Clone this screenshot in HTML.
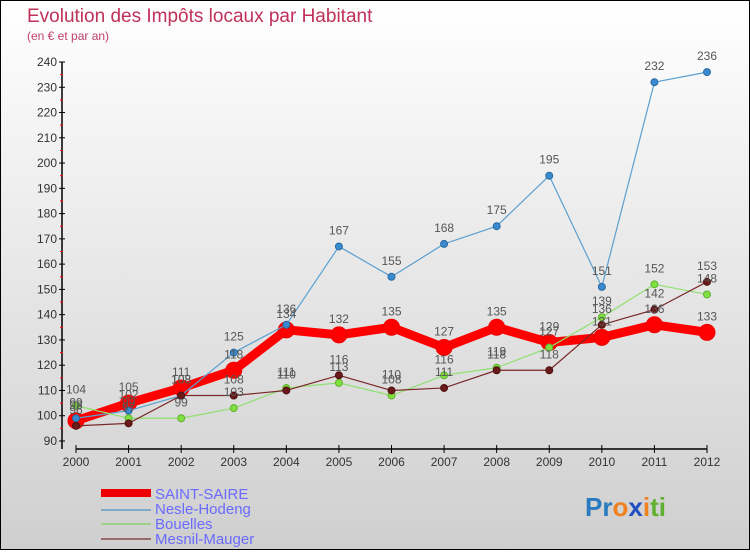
<!DOCTYPE html>
<html><head><meta charset="utf-8"><style>
html,body{margin:0;padding:0}
body{width:750px;height:550px;overflow:hidden;font-family:"Liberation Sans",sans-serif}
#wrap{position:relative;width:748px;height:548px;border:1px solid #000;background:linear-gradient(#ffffff,#cfcfcf)}
</style></head><body>
<div id="wrap">
<svg id="chart" width="748" height="548" xmlns="http://www.w3.org/2000/svg">
<text x="26" y="21" font-size="19" fill="#c0305a">Evolution des Impôts locaux par Habitant</text>
<text x="26" y="39" font-size="12" fill="#c0406a">(en € et par an)</text>
<g id="axes"></g><g id="series"></g><g id="labels"></g>
<g>
<rect x="100" y="488" width="50" height="8" fill="#e00"/>
<text x="154" y="498" font-size="15" fill="#6a6aff">SAINT-SAIRE</text>
<rect x="100" y="508" width="50" height="2" fill="#7fa9c9"/>
<text x="154" y="513" font-size="15" fill="#6a6aff">Nesle-Hodeng</text>
<rect x="100" y="522" width="50" height="2" fill="#9ed08a"/>
<text x="154" y="528" font-size="15" fill="#6a6aff">Bouelles</text>
<rect x="100" y="537" width="50" height="2" fill="#9a6a6a"/>
<text x="154" y="543" font-size="15" fill="#6a6aff">Mesnil-Mauger</text>
</g>
<g font-size="26" font-weight="bold">
<text x="584" y="515"><tspan fill="#2a7ac0">Pr</tspan><tspan fill="#f08020">o</tspan><tspan fill="#2050c0">x</tspan><tspan fill="#f08020">i</tspan><tspan fill="#60b030">ti</tspan></text>
</g>
</svg>
</div>
<script>
const years=[2000,2001,2002,2003,2004,2005,2006,2007,2008,2009,2010,2011,2012];
const saintSaire=[98,105,111,118,134,132,135,127,135,129,131,136,133];
const nesle=[99,102,108,125,136,167,155,168,175,195,151,232,236];
const bouelles=[104,99,99,103,111,113,108,116,119,127,139,152,148];
const mesnil=[96,97,108,108,110,116,110,111,118,118,136,142,153];
const yTicks=[90,100,110,120,130,140,150,160,170,180,190,200,210,220,230,240];
const NS="http://www.w3.org/2000/svg";
const x=i=>75+i*(706-75)/(years.length-1);
const y=v=>440-(v-90)*(440-61)/150;
function mk(t,a,p){const e=document.createElementNS(NS,t);for(const k in a)e.setAttribute(k,a[k]);p.appendChild(e);return e;}
const ax=document.getElementById('axes');
const yl=mk('line',{x1:61,y1:y(240),x2:61,y2:448,stroke:'#000','stroke-width':1.5},ax);


const xl=mk('line',{x1:75,y1:448,x2:706,y2:448,stroke:'#000','stroke-width':1.5},ax);


yTicks.forEach(v=>{
  mk('line',{x1:58,y1:y(v),x2:64,y2:y(v),stroke:'#000'},ax);
  if(v<240)mk('line',{x1:59,y1:y(v+5),x2:62,y2:y(v+5),stroke:'#f00'},ax);
  const t=mk('text',{x:56,y:y(v)+4,'font-size':12,fill:'#333','text-anchor':'end'},ax);t.textContent=v;
  
  
});
years.forEach((yr,i)=>{
  mk('line',{x1:x(i),y1:444,x2:x(i),y2:452,stroke:'#000'},ax);
  const t=mk('text',{x:x(i),y:465,'font-size':12,fill:'#333','text-anchor':'middle'},ax);t.textContent=yr;
  
  
});
const sg=document.getElementById('series'),lg=document.getElementById('labels');
function series(data,name,col,w,r,dot,stroke){
  const g=mk('g',{},sg);
  
  
  const p=mk('polyline',{points:data.map((v,i)=>x(i)+','+y(v)).join(' '),fill:'none',stroke:col,'stroke-width':w,'stroke-linejoin':'round'},g);
  
  
  data.forEach((v,i)=>{
    const c=mk('circle',{cx:x(i),cy:y(v),r:r,fill:dot,stroke:stroke,'stroke-width':1},g);
    
    
    const t=mk('text',{x:x(i),y:y(v)-12,'font-size':12,fill:'#555','text-anchor':'middle'},lg);t.textContent=v;
    
    
  });
}
series(saintSaire,'saint-saire','#f00',9,8,'#f00','#e00');
series(nesle,'nesle-hodeng','#5a9fd0',1.2,3.5,'#3a8ad0','#2a6aa0');
series(bouelles,'bouelles','#90e070',1.2,3.5,'#80e040','#60b030');
series(mesnil,'mesnil-mauger','#7a2a2a',1.2,3.5,'#6a1a1a','#501010');
</script>
</body></html>
